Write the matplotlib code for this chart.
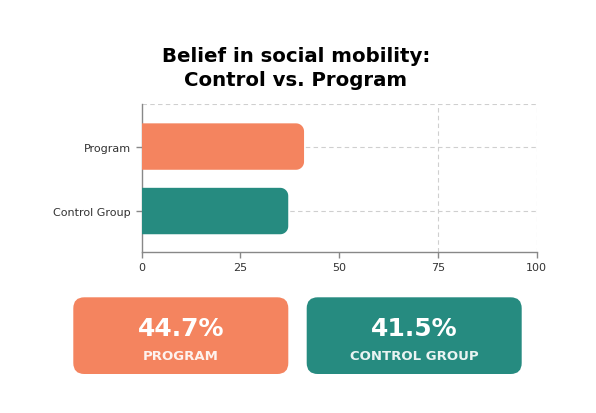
import matplotlib
matplotlib.use("Agg")
import numpy as np
import matplotlib.pyplot as plt
from matplotlib.patches import FancyBboxPatch, Polygon

# ---- data ----
categories = ["Control Group", "Program"]
bar_values = [37.1, 41.1]
bar_colors = ["#268B80", "#F4845F"]
x_ticks = [0, 25, 50, 75, 100]
card_labels = ["PROGRAM", "CONTROL GROUP"]
card_values = [44.7, 41.5]
card_colors = ["#F4845F", "#268B80"]
title = "Belief in social mobility:\nControl vs. Program"

W, H = 596, 414
fig = plt.figure(figsize=(W / 100, H / 100), dpi=100)
fig.patch.set_facecolor("white")
plt.rcParams["font.family"] = ["DejaVu Sans"]

# axes placement (pixels)
L, R, T, B = 141.7, 536.7, 105, 253.3
YLO, YHI = -0.64, 1.66
ax = fig.add_axes([L / W, 1 - B / H, (R - L) / W, (B - T) / H])
ax.set_xlim(0, 100)
ax.set_ylim(YLO, YHI)

bars = ax.barh(range(len(categories)), bar_values, height=0.72, color=bar_colors, zorder=3)
px_x = (R - L) / 100.0
px_y = (B - T) / (YHI - YLO)
rad_px = 8
rx = rad_px / px_x
ry = rad_px / px_y
for b, c in zip(bars, bar_colors):
    x, y, w, h = b.get_x(), b.get_y(), b.get_width(), b.get_height()
    b.set_visible(False)
    th1 = np.linspace(-np.pi / 2, 0, 12)
    th2 = np.linspace(0, np.pi / 2, 12)
    pts = [(x, y)]
    pts += [(x + w - rx + rx * np.cos(t), y + ry + ry * np.sin(t)) for t in th1]
    pts += [(x + w - rx + rx * np.cos(t), y + h - ry + ry * np.sin(t)) for t in th2]
    pts += [(x, y + h)]
    ax.add_patch(Polygon(pts, closed=True, fc=c, ec="none", zorder=3))

ax.set_yticks(range(len(categories)))
ax.set_yticklabels(categories, fontsize=8, color="#333333")
ax.set_xticks(x_ticks)
ax.set_xticklabels([str(t) for t in x_ticks], fontsize=8, color="#333333")

grid_kw = dict(color="#cfcfcf", lw=0.8, ls=(0, (4, 3)), zorder=1)
for i in range(len(categories)):
    ax.axhline(i, **grid_kw)
ax.axhline(YHI, **grid_kw)
for t in x_ticks[-2:]:
    ax.axvline(t, **grid_kw)

for s in ["top", "right"]:
    ax.spines[s].set_visible(False)
for s in ["left", "bottom"]:
    ax.spines[s].set_color("#888888")
    ax.spines[s].set_linewidth(1.0)
ax.tick_params(axis="both", colors="#888888", length=4, width=1, labelcolor="#333333")
ax.tick_params(axis="y", pad=4)
ax.tick_params(axis="x", pad=3)

# title
fig.text(296 / W, 1 - 68.5 / H, title, ha="center", va="center", fontsize=14.2,
         fontweight="bold", color="#000000", linespacing=1.4)

# cards
ov = fig.add_axes([0, 0, 1, 1])
ov.set_xlim(0, W)
ov.set_ylim(H, 0)
ov.axis("off")
card_x = [73.3, 306.7]
card_w, card_h, card_y = 215, 76.7, 298.3
for cx, lab, val, col in zip(card_x, card_labels, card_values, card_colors):
    ov.add_patch(FancyBboxPatch((cx, card_y), card_w, card_h,
                                boxstyle="round,pad=0,rounding_size=11", fc=col, ec="none"))
    ov.text(cx + card_w / 2, 329, f"{val}%", ha="center", va="center", fontsize=18,
            fontweight="bold", color="white")
    ov.text(cx + card_w / 2, 356.5, lab, ha="center", va="center", fontsize=9.5,
            fontweight="semibold", color="white", alpha=0.9)

fig.savefig("out.png", dpi=100, facecolor="white")
